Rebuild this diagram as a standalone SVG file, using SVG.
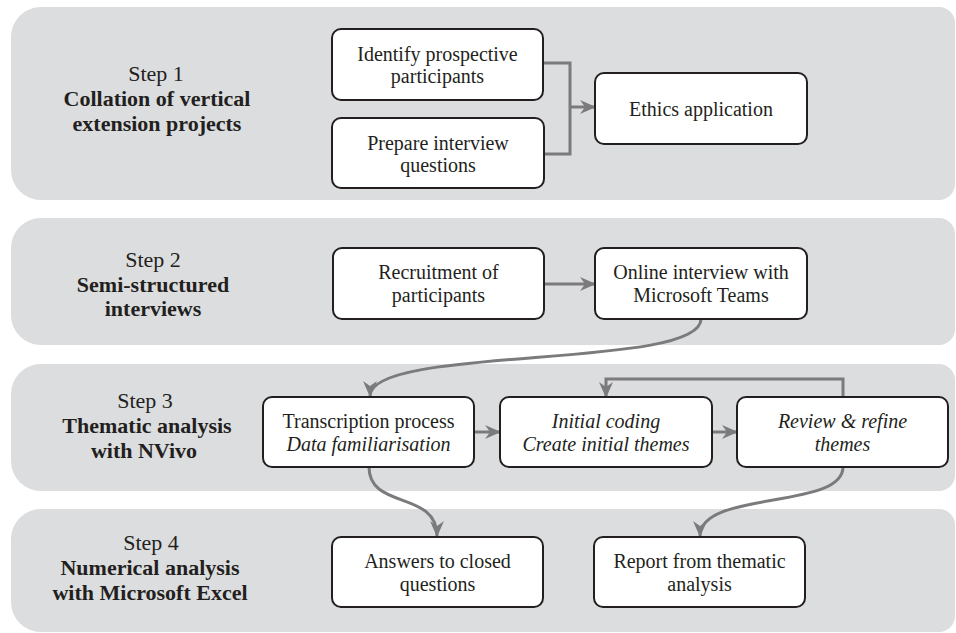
<svg xmlns="http://www.w3.org/2000/svg" width="956" height="633" viewBox="0 0 956 633">
  <defs>
    <marker id="arrow" markerUnits="userSpaceOnUse" viewBox="0 0 16 14" refX="15" refY="7" markerWidth="16" markerHeight="14" orient="auto">
      <path d="M0,0 L16,7 L0,14 L5,7 Z" fill="#7b7b7d"/>
    </marker>
  </defs>
  <style>
    .panel { fill: #dcdddf; }
    .box { fill: #ffffff; stroke: #231f20; stroke-width: 2; }
    .txt { font-family: "Liberation Serif", "Times New Roman", serif; font-size: 20px; fill: #231f20; text-anchor: middle; }
    .it { font-style: italic; }
    .step { font-family: "Liberation Serif", "Times New Roman", serif; font-size: 22px; fill: #231f20; text-anchor: middle; }
    .bold { font-weight: bold; }
    .conn { fill: none; stroke: #7b7b7d; stroke-width: 3; }
  </style>
  <rect width="956" height="633" fill="#ffffff"/>

  <!-- step bands -->
  <g id="panel1">
    <path class="panel" d="M41,7 H939 A16,16 0 0 1 955,23 V184 A16,16 0 0 1 939,200 H41 A30,30 0 0 1 11,170 V37 A30,30 0 0 1 41,7 Z"/>
    <text class="step" x="156" y="81">Step 1</text>
    <text class="step bold" x="157" y="106">Collation of vertical</text>
    <text class="step bold" x="157" y="131">extension projects</text>
  </g>
  <g id="panel2">
    <path class="panel" d="M41,218 H939 A16,16 0 0 1 955,234 V329 A16,16 0 0 1 939,345 H41 A30,30 0 0 1 11,315 V248 A30,30 0 0 1 41,218 Z"/>
    <text class="step" x="153" y="267">Step 2</text>
    <text class="step bold" x="153" y="292">Semi-structured</text>
    <text class="step bold" x="153" y="316">interviews</text>
  </g>
  <g id="panel3">
    <path class="panel" d="M41,364 H939 A16,16 0 0 1 955,380 V475 A16,16 0 0 1 939,491 H41 A30,30 0 0 1 11,461 V394 A30,30 0 0 1 41,364 Z"/>
    <text class="step" x="145" y="408">Step 3</text>
    <text class="step bold" x="147" y="433">Thematic analysis</text>
    <text class="step bold" x="144" y="458">with NVivo</text>
  </g>
  <g id="panel4">
    <path class="panel" d="M41,509 H939 A16,16 0 0 1 955,525 V616 A16,16 0 0 1 939,632 H41 A30,30 0 0 1 11,602 V539 A30,30 0 0 1 41,509 Z"/>
    <text class="step" x="151" y="550">Step 4</text>
    <text class="step bold" x="150" y="575">Numerical analysis</text>
    <text class="step bold" x="150" y="600">with Microsoft Excel</text>
  </g>

  <!-- connectors -->
  <g id="connectors">
    <path class="conn" d="M543,63 H570 V154 H544"/>
    <path class="conn" d="M570,107 H595" marker-end="url(#arrow)"/>
    <path class="conn" d="M544,284 H595" marker-end="url(#arrow)"/>
    <path class="conn" d="M701,319 C701,370 370,345 370,396" marker-end="url(#arrow)"/>
    <path class="conn" d="M474,432 H500" marker-end="url(#arrow)"/>
    <path class="conn" d="M712,432 H737" marker-end="url(#arrow)"/>
    <path class="conn" d="M843,397 V379 H606 V397" marker-end="url(#arrow)"/>
    <path class="conn" d="M369,467 C369,510 437,490 437,536" marker-end="url(#arrow)"/>
    <path class="conn" d="M843,467 C843,510 700,490 700,536" marker-end="url(#arrow)"/>
  </g>

  <!-- process nodes -->
  <g id="identify">
    <rect class="box" x="332" y="29" width="211" height="71" rx="9"/>
    <text class="txt" x="437.5" y="61">Identify prospective</text>
    <text class="txt" x="437.5" y="83">participants</text>
  </g>
  <g id="prepare">
    <rect class="box" x="332" y="118" width="212" height="70" rx="9"/>
    <text class="txt" x="438" y="150">Prepare interview</text>
    <text class="txt" x="438" y="172">questions</text>
  </g>
  <g id="ethics">
    <rect class="box" x="595" y="73" width="212" height="71" rx="9"/>
    <text class="txt" x="701" y="116">Ethics application</text>
  </g>
  <g id="recruitment">
    <rect class="box" x="333" y="248" width="211" height="71" rx="9"/>
    <text class="txt" x="438.5" y="279">Recruitment of</text>
    <text class="txt" x="438.5" y="302">participants</text>
  </g>
  <g id="online-interview">
    <rect class="box" x="595" y="248" width="212" height="71" rx="9"/>
    <text class="txt" x="701" y="279">Online interview with</text>
    <text class="txt" x="701" y="302">Microsoft Teams</text>
  </g>
  <g id="transcription">
    <rect class="box" x="263" y="397" width="211" height="70" rx="9"/>
    <text class="txt" x="368.5" y="428">Transcription process</text>
    <text class="txt it" x="368.5" y="451">Data familiarisation</text>
  </g>
  <g id="initial-coding">
    <rect class="box" x="500" y="397" width="212" height="70" rx="9"/>
    <text class="txt it" x="606" y="428">Initial coding</text>
    <text class="txt it" x="606" y="451">Create initial themes</text>
  </g>
  <g id="review">
    <rect class="box" x="737" y="397" width="211" height="70" rx="9"/>
    <text class="txt it" x="842.5" y="428">Review &amp; refine</text>
    <text class="txt it" x="842.5" y="451">themes</text>
  </g>
  <g id="answers">
    <rect class="box" x="332" y="537" width="211" height="70" rx="9"/>
    <text class="txt" x="437.5" y="568">Answers to closed</text>
    <text class="txt" x="437.5" y="591">questions</text>
  </g>
  <g id="report">
    <rect class="box" x="594" y="537" width="211" height="70" rx="9"/>
    <text class="txt" x="699.5" y="568">Report from thematic</text>
    <text class="txt" x="699.5" y="591">analysis</text>
  </g>
</svg>
